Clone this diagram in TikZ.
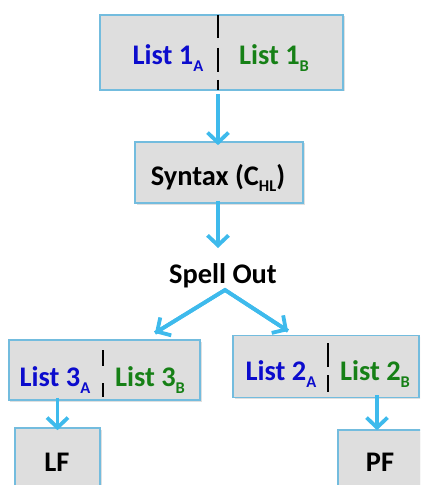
\documentclass[tikz,border=0pt]{standalone}
\usepackage{fontspec}
\setmainfont{Carlito}
\usetikzlibrary{arrows.meta,shadows}
\definecolor{arrowblue}{RGB}{62,186,236}
\definecolor{boxedge}{RGB}{115,188,222}
\definecolor{boxfill}{RGB}{222,222,222}
\definecolor{txtblue}{RGB}{12,12,205}
\definecolor{txtgreen}{RGB}{22,128,22}
\newcommand\subsc[1]{\raisebox{-0.5ex}{\fontsize{16.5}{16.5}\selectfont #1}}
\tikzset{
  box/.style={draw=boxedge, line width=1.6bp, fill=boxfill, inner sep=0pt,
    drop shadow={shadow xshift=1.5bp, shadow yshift=-1.5bp, opacity=0.25}},
  lbl/.style={font=\fontsize{28.5}{32}\selectfont\bfseries, inner sep=0pt, anchor=center},
  conn/.style={draw=arrowblue, line width=3.8bp, -{Straight Barb[length=10bp,width=21bp,line width=3.8bp]}},
  divider/.style={draw=black, line width=2.2bp},
}
\begin{document}
\begin{tikzpicture}[x=1bp,y=-1bp]
\useasboundingbox (0,0) rectangle (420,485);
\clip (0,0) rectangle (420,485);
% boxes
\node[box, minimum width=243bp, minimum height=75bp] (top) at (221.5,52.5) {};
\node[box, minimum width=168bp, minimum height=61bp] (syn) at (219,172.5) {};
\node[box, minimum width=191bp, minimum height=60bp] (l3) at (104.5,370) {};
\node[box, minimum width=186bp, minimum height=62bp] (l2) at (326,366.5) {};
\node[box, minimum width=85bp, minimum height=72bp] (lf) at (57.5,464) {};
\node[box, minimum width=90bp, minimum height=72bp] (pf) at (383,466) {};
% dividers
\draw[divider] (218,15) -- (218,38) (218,48) -- (218,72) (218,80) -- (218,90);
\draw[divider] (103,350) -- (103,366) (103,383) -- (103,397);
\draw[divider] (328,343) -- (328,367) (328,375) -- (328,392);
% texts
\node[lbl, text=txtblue] (t1a) at (168,58) {List 1\subsc{A}};
\node[lbl, text=txtgreen] (t1b) at (274,58) {List 1\subsc{B}};
\node[lbl] (tsyn) at (218,178) {Syntax (C\subsc{HL})};
\node[lbl] (spell) at (223,276) {Spell Out};
\node[lbl, text=txtblue] (t3a) at (55,380) {List 3\subsc{A}};
\node[lbl, text=txtgreen] (t3b) at (150,380) {List 3\subsc{B}};
\node[lbl, text=txtblue] (t2a) at (281,374) {List 2\subsc{A}};
\node[lbl, text=txtgreen] (t2b) at (375,374) {List 2\subsc{B}};
\node[lbl] (tlf) at (57,462) {LF};
\node[lbl] (tpf) at (380,462) {PF};
% connectors
\coordinate (peak) at (225,290);
\coordinate (e3) at (155,333);
\coordinate (e2) at (288,331);
\draw[conn] (top.south -| 218,0) ++(0,3) -- ([yshift=-4bp]syn.north -| 218,0);
\draw[conn] ([yshift=3bp]syn.south -| 218,0) -- (218,248);
\draw[conn, -] (e3) -- (peak) -- (e2);
\draw[conn, shorten <=-1bp] (peak) -- (e3);
\draw[conn, shorten <=-1bp] (peak) -- (e2);
\draw[conn] ([yshift=3bp]l3.south -| lf.north) -- ([yshift=-3bp]lf.north);
\draw[conn] ([yshift=3bp]l2.south -| 377,0) -- ([yshift=-3bp]lf.north -| 377,0);
\end{tikzpicture}
\end{document}
